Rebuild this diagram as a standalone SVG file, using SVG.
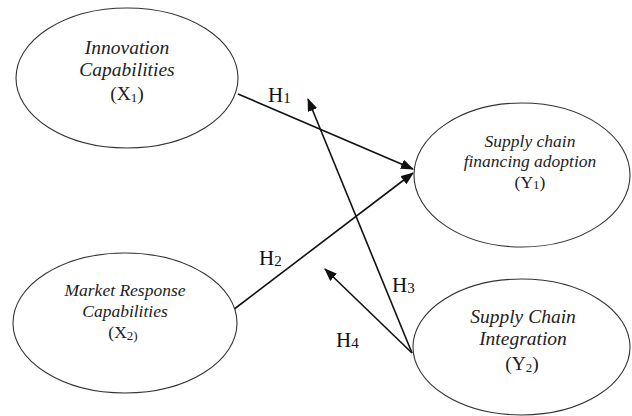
<svg xmlns="http://www.w3.org/2000/svg" width="632" height="416" viewBox="0 0 632 416">
<defs>
<style>
ellipse{fill:#fff;stroke:#333;stroke-width:1.1}
.t{font-family:"Liberation Serif","Times New Roman",serif;fill:#222;text-anchor:middle}
.i{font-style:italic}
.big{font-size:19.5px}
.sm{font-size:17.5px}
.lbl{font-family:"Liberation Serif","Times New Roman",serif;font-size:21px;fill:#111}
.sub{font-size:13px}
.edge{stroke:#111;stroke-width:1.6;fill:none;marker-end:url(#arr)}
</style>
<marker id="arr" viewBox="0 0 13 10" refX="12" refY="5" markerWidth="13" markerHeight="10" markerUnits="userSpaceOnUse" orient="auto">
<path d="M0,0 L13,5 L0,10 z" fill="#111"/>
</marker>
</defs>
<rect width="632" height="416" fill="#fff"/>
<g id="connectors">
<line class="edge" x1="238" y1="94" x2="413" y2="169"/>
<line class="edge" x1="233" y1="310" x2="413" y2="173"/>
<line class="edge" x1="412" y1="353" x2="308" y2="99"/>
<line class="edge" x1="412" y1="353" x2="325" y2="269"/>
</g>
<g id="x1">
<ellipse cx="127" cy="78" rx="111" ry="70"/>
<text class="t i big" x="127" y="54">Innovation</text>
<text class="t i big" x="127" y="76">Capabilities</text>
<text class="t big" x="127" y="100">(X<tspan class="sub" dy="2">1</tspan><tspan dy="-2">)</tspan></text>
</g>
<g id="y1">
<ellipse cx="522" cy="175" rx="108" ry="72"/>
<text class="t i sm" x="530" y="147">Supply chain</text>
<text class="t i sm" x="530" y="167">financing adoption</text>
<text class="t sm" x="530" y="188">(Y<tspan class="sub" dy="1">1</tspan><tspan dy="-1">)</tspan></text>
</g>
<g id="x2">
<ellipse cx="125" cy="323" rx="112" ry="70"/>
<text class="t i sm" x="125" y="296">Market Response</text>
<text class="t i sm" x="125" y="317">Capabilities</text>
<text class="t sm" x="123" y="338">(X<tspan class="sub" dy="2">2)</tspan></text>
</g>
<g id="y2">
<ellipse cx="521.5" cy="347" rx="108.5" ry="68"/>
<text class="t i big" x="523" y="323">Supply Chain</text>
<text class="t i big" x="523" y="345">Integration</text>
<text class="t big" x="522" y="370">(Y<tspan class="sub" dy="2">2</tspan><tspan dy="-2">)</tspan></text>
</g>
<g id="labels">
<text class="lbl" x="268" y="102">H<tspan font-size="15" dy="1">1</tspan></text>
<text class="lbl" x="259" y="265">H<tspan font-size="15" dy="1">2</tspan></text>
<text class="lbl" x="392" y="292">H<tspan font-size="15" dy="1">3</tspan></text>
<text class="lbl" x="336" y="347">H<tspan font-size="15" dy="1">4</tspan></text>
</g>
</svg>
